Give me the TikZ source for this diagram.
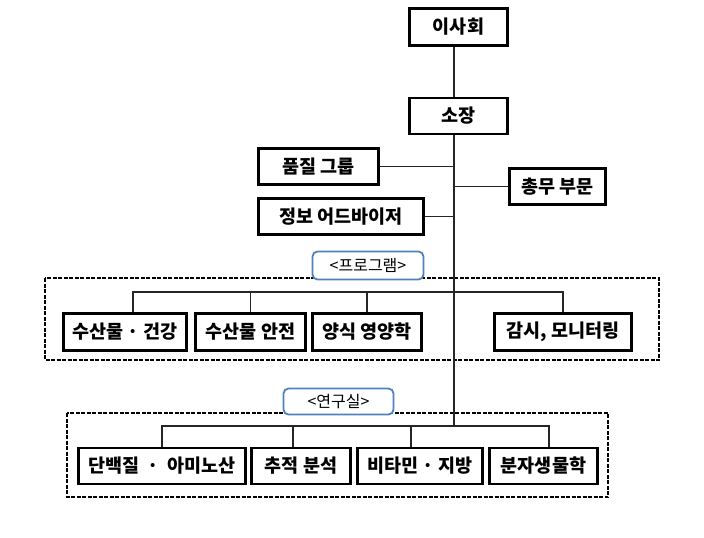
\documentclass[tikz,border=0pt]{standalone}
\usepackage{fontspec}
\newfontfamily\kr{Noto Sans CJK KR}
\usepackage{xcolor}
\usepackage{tikz}
\definecolor{ink}{HTML}{000000}
\definecolor{wire}{HTML}{262626}
\definecolor{tagblue}{HTML}{4F81BD}
\tikzset{
  unit/.style={draw=ink, line width=2.8pt, fill=white, inner sep=1pt, minimum height=36, font=\kr\bfseries\fontsize{18.5}{20}\selectfont},
  tag/.style={draw=tagblue, line width=1.8pt, rounded corners=5pt, fill=white, inner sep=1pt, font=\kr\fontsize{16}{18}\selectfont},
  link/.style={draw=wire, line width=1.3pt},
  frame/.style={draw=ink, line width=1.8pt, dash pattern=on 4pt off 1.5pt},
}

\begin{document}
\begin{tikzpicture}[x=1pt,y=-1pt]
  \useasboundingbox (0,0) rectangle (704,538);
  \draw[frame] (45,278) rectangle (659,360);
  \draw[frame] (67,413) rectangle (608,497);
  \coordinate (spine) at (454,0);
  \coordinate (progbar) at (454,292);
  \coordinate (labbar) at (454,426);
  % top of the chart
  \node[unit, minimum width=98, minimum height=37] (board) at (458.5,27) {이사회};
  \node[unit, minimum width=98] (director) at (458.5,116) {소장};
  \node[unit, minimum width=120] (quality) at (318.5,166.5) {품질 그룹};
  \node[unit, minimum width=165] (advisor) at (341,216.5) {정보 어드바이저};
  \node[unit, minimum width=96] (admin) at (557.5,186.5) {총무 부문};
  % programs
  \node[tag, minimum width=111, minimum height=28] (progtag) at (368,265.5) {<프로그램>};
  \node[unit, minimum width=123, minimum height=37] (p1) at (125,332) {수산물 · 건강};
  \node[unit, minimum width=110, minimum height=37] (p2) at (250.5,332) {수산물 안전};
  \node[unit, minimum width=109, minimum height=37] (p3) at (367,332) {양식 영양학};
  \node[unit, minimum width=137, minimum height=37] (p4) at (563,332) {감시, 모니터링};
  % labs
  \node[tag, minimum width=110, minimum height=26] (labtag) at (338.5,401.5) {<연구실>};
  \node[unit, minimum width=167] (l1) at (162,466) {단백질 \ · \ 아미노산};
  \node[unit, minimum width=99] (l2) at (301,466) {추적 분석};
  \node[unit, minimum width=125] (l3) at (420,466) {비타민 · 지방};
  \node[unit, minimum width=108] (l4) at (543.5,466) {분자생물학};
  % connectors
  \draw[link] (board.south -| spine) -- (director.north -| spine);
  \draw[link] (director.south -| spine) -- (labbar);
  \draw[link] (quality.east) -- (quality.east -| spine);
  \draw[link] (advisor.east) -- (advisor.east -| spine);
  \draw[link] (admin.west) -- (admin.west -| spine);
  \draw[link] ([xshift=8]p1.north) |- (progbar) -| (p4.north);
  \draw[link] (p2.north) -- (p2.north |- progbar);
  \draw[link] (p3.north) -- (p3.north |- progbar);
  \draw[link] (l1.north) |- (labbar) -| ([xshift=5.5]l4.north);
  \draw[link] ([xshift=-8]l2.north) -- ([xshift=-8]l2.north |- labbar);
  \draw[link] ([xshift=-9]l3.north) -- ([xshift=-9]l3.north |- labbar);
\end{tikzpicture}
\end{document}
